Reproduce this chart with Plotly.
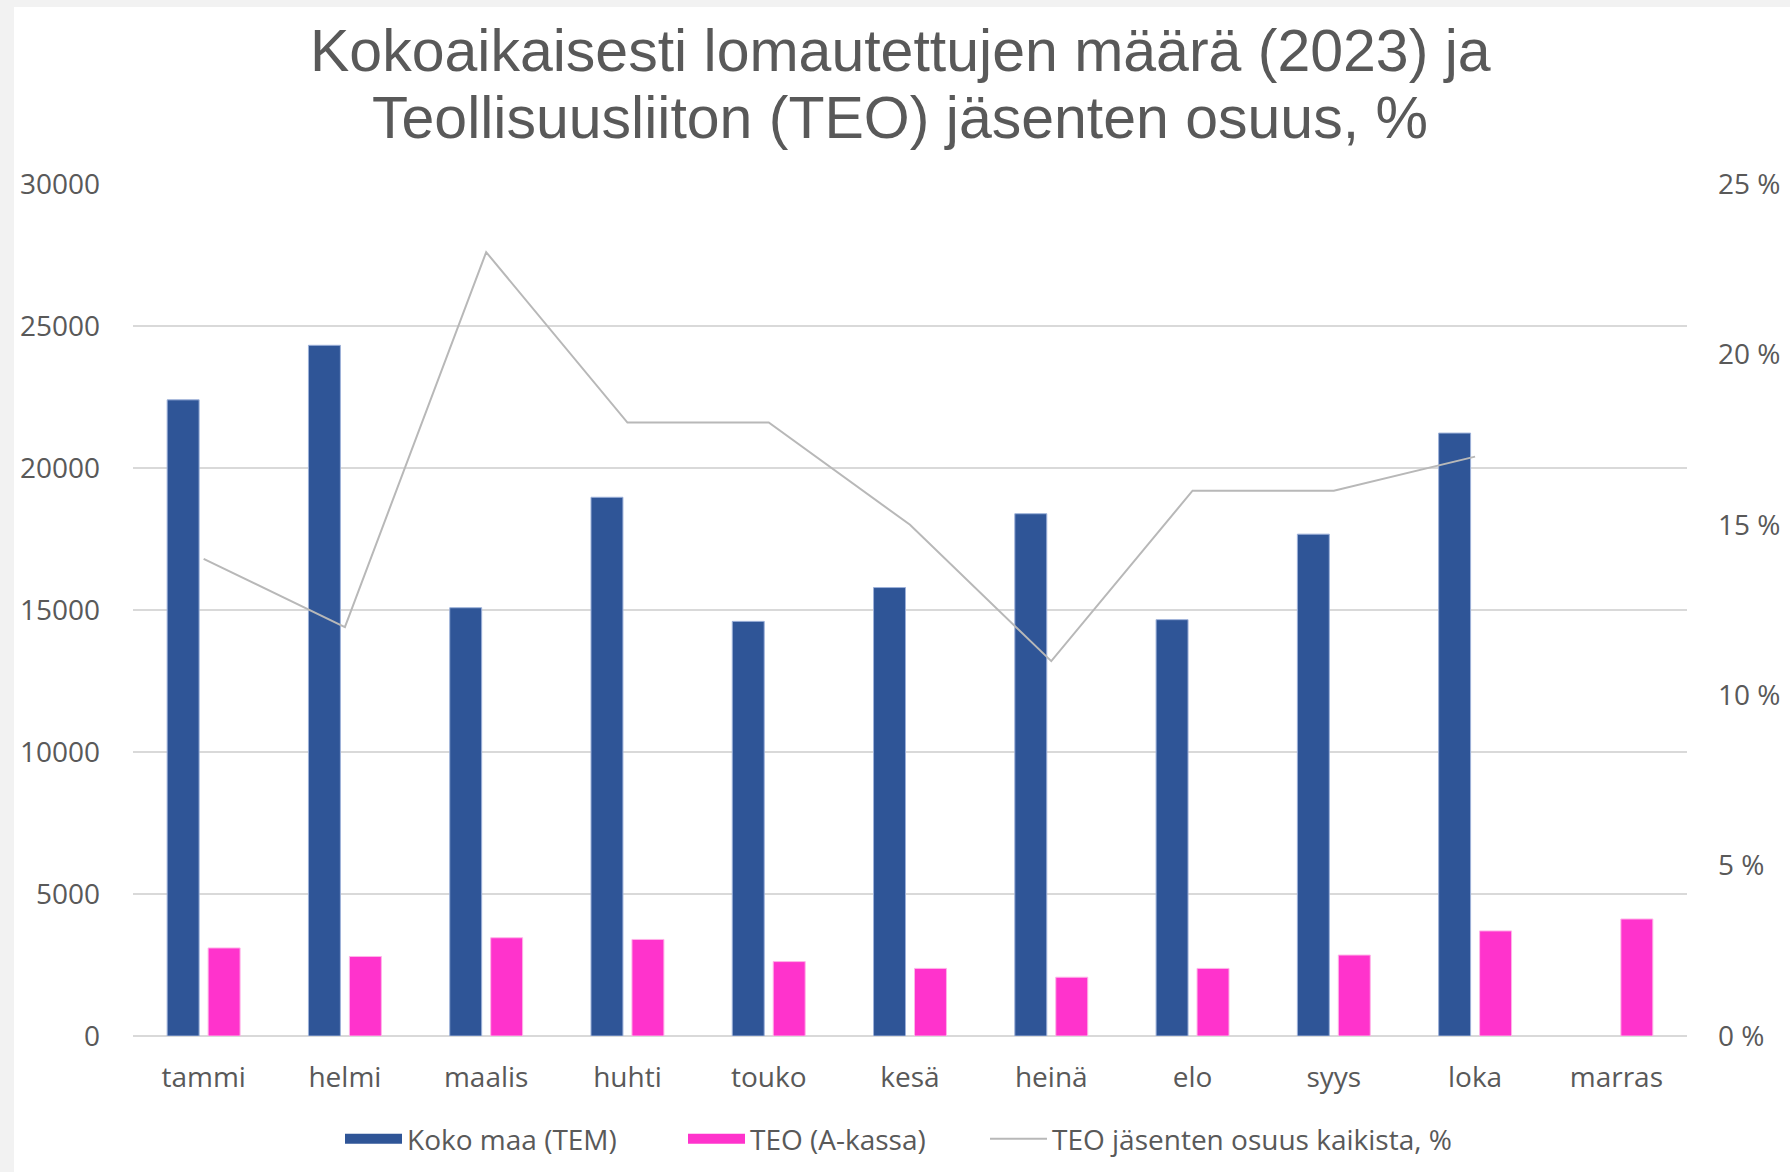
import plotly.graph_objects as go

months = ["tammi", "helmi", "maalis", "huhti", "touko", "kesä", "heinä", "elo", "syys", "loka", "marras"]
koko_maa = [22400, 24320, 15080, 18970, 14600, 15790, 18390, 14660, 17670, 21230, None]
teo_akassa = [3100, 2800, 3460, 3400, 2620, 2380, 2070, 2380, 2850, 3700, 4120]
teo_osuus = [14, 12, 23, 18, 18, 15, 11, 16, 16, 17, None]

left_ticks = [0, 5000, 10000, 15000, 20000, 25000, 30000]
right_ticks = [0, 5, 10, 15, 20, 25]

title_lines = ["Kokoaikaisesti lomautettujen määrä (2023) ja",
               "Teollisuusliiton (TEO) jäsenten osuus, %"]

BLUE, PINK, GRAY = "#2f5597", "#ff33cc", "#b8b8b8"

W, H = 1790, 1172
L, R, T, B = 133, 103, 184, 136
pw, ph = W - L - R, H - T - B

tick_font = dict(family="Open Sans", size=28, color="#595959")

fig = go.Figure()
fig.add_trace(go.Bar(
    x=months, y=koko_maa, name="Koko maa (TEM)", legendgroup="tem", showlegend=False,
    marker=dict(color=BLUE, line=dict(color="#9db1d9", width=1)),
))
fig.add_trace(go.Bar(
    x=months, y=teo_akassa, name="TEO (A-kassa)", legendgroup="teo", showlegend=False,
    marker=dict(color=PINK, line=dict(color="#ffb3e8", width=1)),
))
fig.add_trace(go.Scatter(
    x=months, y=teo_osuus, name="TEO jäsenten osuus kaikista, %",
    mode="lines", line=dict(color=GRAY, width=2), yaxis="y2", legend="legend3",
))
# legend keys drawn as wide rectangles (like the original legend)
fig.add_trace(go.Scatter(
    x=[months[0]], y=[None], name="Koko maa (TEM)", legendgroup="tem",
    mode="lines", line=dict(color=BLUE, width=16), hoverinfo="skip", legend="legend",
))
fig.add_trace(go.Scatter(
    x=[months[0]], y=[None], name="TEO (A-kassa)", legendgroup="teo",
    mode="lines", line=dict(color=PINK, width=16), hoverinfo="skip", legend="legend2",
))

# white chart area on light gray page
fig.add_shape(
    type="rect", xref="paper", yref="paper", layer="below",
    x0=(14 - L) / pw, x1=(W + 10 - L) / pw,
    y0=(T + ph - H - 10) / ph, y1=(T + ph - 7) / ph,
    fillcolor="white", line=dict(width=0),
)

# two-line chart title
for line_text, yc in zip(title_lines, [51, 118]):
    fig.add_annotation(
        text=line_text, showarrow=False,
        xref="paper", yref="paper",
        x=(900 - L) / pw, xanchor="center",
        y=(T + ph - yc) / ph, yanchor="middle",
        font=dict(family="Liberation Sans", size=59, color="#595959"),
    )

def legend_at(xpx):
    return dict(
        orientation="h", x=xpx / W, xanchor="left", xref="container",
        y=1 - 1139 / H, yanchor="middle", yref="container",
        font=tick_font, bgcolor="rgba(0,0,0,0)", itemwidth=57,
    )

fig.update_layout(
    width=W, height=H,
    margin=dict(l=L, r=R, t=T, b=B, pad=0, autoexpand=False),
    paper_bgcolor="#f2f2f2",
    plot_bgcolor="white",
    barmode="group",
    bargap=0.42,
    bargroupgap=0.22,
    xaxis=dict(
        showgrid=False, showline=False, zeroline=False,
        tickfont=tick_font, ticks="", ticklabelstandoff=22,
    ),
    yaxis=dict(
        range=[0, 30000], tickvals=left_ticks, ticktext=[str(v) for v in left_ticks],
        showgrid=True, gridcolor="#d9d9d9", gridwidth=2,
        zeroline=True, zerolinecolor="#d9d9d9", zerolinewidth=2,
        showline=False, tickfont=tick_font, ticks="", ticklabelstandoff=32,
    ),
    yaxis2=dict(
        range=[0, 25], tickvals=right_ticks, ticktext=[f"{v} %" for v in right_ticks],
        overlaying="y", side="right", showgrid=False, zeroline=False, showline=False,
        tickfont=tick_font, ticks="", ticklabelstandoff=30,
    ),
    legend=legend_at(340),
    legend2=legend_at(683),
    legend3=legend_at(985),
    showlegend=True,
)

fig.write_html(
    "out.html",
    config={"displayModeBar": False},
    post_script="document.body.style.margin='0';document.body.style.background='#f2f2f2';document.body.style.overflow='hidden';",
)
